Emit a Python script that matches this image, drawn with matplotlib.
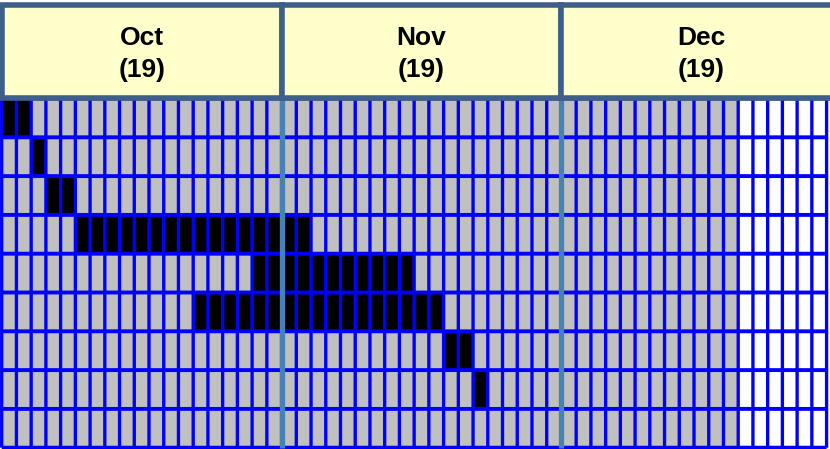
import matplotlib
matplotlib.use('Agg')
import matplotlib.pyplot as plt
import numpy as np
from matplotlib.patches import Rectangle

# months shown in the header, working days in each
months = ['Oct', 'Nov', 'Dec']
month_days = [19, 19, 19]

# tasks: start column and duration (in working days)
task_start = [0, 2, 3, 5, 17, 13, 30, 32]
task_len = [2, 1, 2, 16, 11, 17, 2, 1]
n_rows = 9
n_cols = 56          # visible columns
shaded_cols = 50     # grey (project period) columns

# pixel layout of the original picture
W, H = 830, 449
x0_px, col_px = 1.7, 14.73
y0_px, row_px = 98.5, 38.8

fig = plt.figure(figsize=(W / 100, H / 100), dpi=100)
ax = fig.add_axes([0, 0, 1, 1])
ax.set_xlim(-x0_px / col_px, (W - x0_px) / col_px)
ax.set_ylim((H - y0_px) / row_px, -y0_px / row_px)
ax.axis('off')

# cell matrix: 0 white, 1 grey, 2 black
cells = np.zeros((n_rows, n_cols))
cells[:, :shaded_cols] = 1
for r, (s, d) in enumerate(zip(task_start, task_len)):
    cells[r, s:s + d] = 2

cmap = matplotlib.colors.ListedColormap(['#FFFFFF', '#C0C0C0', '#000000'])
ax.pcolormesh(np.arange(n_cols + 1), np.arange(n_rows + 1), cells,
              cmap=cmap, vmin=-0.5, vmax=2.5, antialiased=False,
              edgecolors='none', zorder=1)
vl = ax.vlines(np.arange(n_cols + 1), 0, n_rows, color='#0000FF',
               linewidth=2.4, zorder=2)
hl = ax.hlines(np.arange(n_rows + 1), 0, n_cols, color='#0000FF',
               linewidth=2.8, zorder=2)
vl.set_snap(False)
hl.set_snap(False)

# month separators in the grid
edges = np.cumsum(month_days)
ax.vlines(edges[:-1], 0, n_rows, color='#4682B4', linewidth=3.8, zorder=3)

# header boxes
left = 0
for m, d in zip(months, month_days):
    ax.add_patch(Rectangle((left, -2.42), d, 2.4, facecolor='#FFFFCC',
                           edgecolor='#3D5F8A', linewidth=4, zorder=4,
                           clip_on=False))
    ax.text(left + d / 2, -1.14, f'{m}\n({d})', ha='center', va='center',
            fontsize=19, fontweight='bold', family='Liberation Sans',
            linespacing=1.4, zorder=5)
    left += d

fig.savefig('out.png', dpi=100)
